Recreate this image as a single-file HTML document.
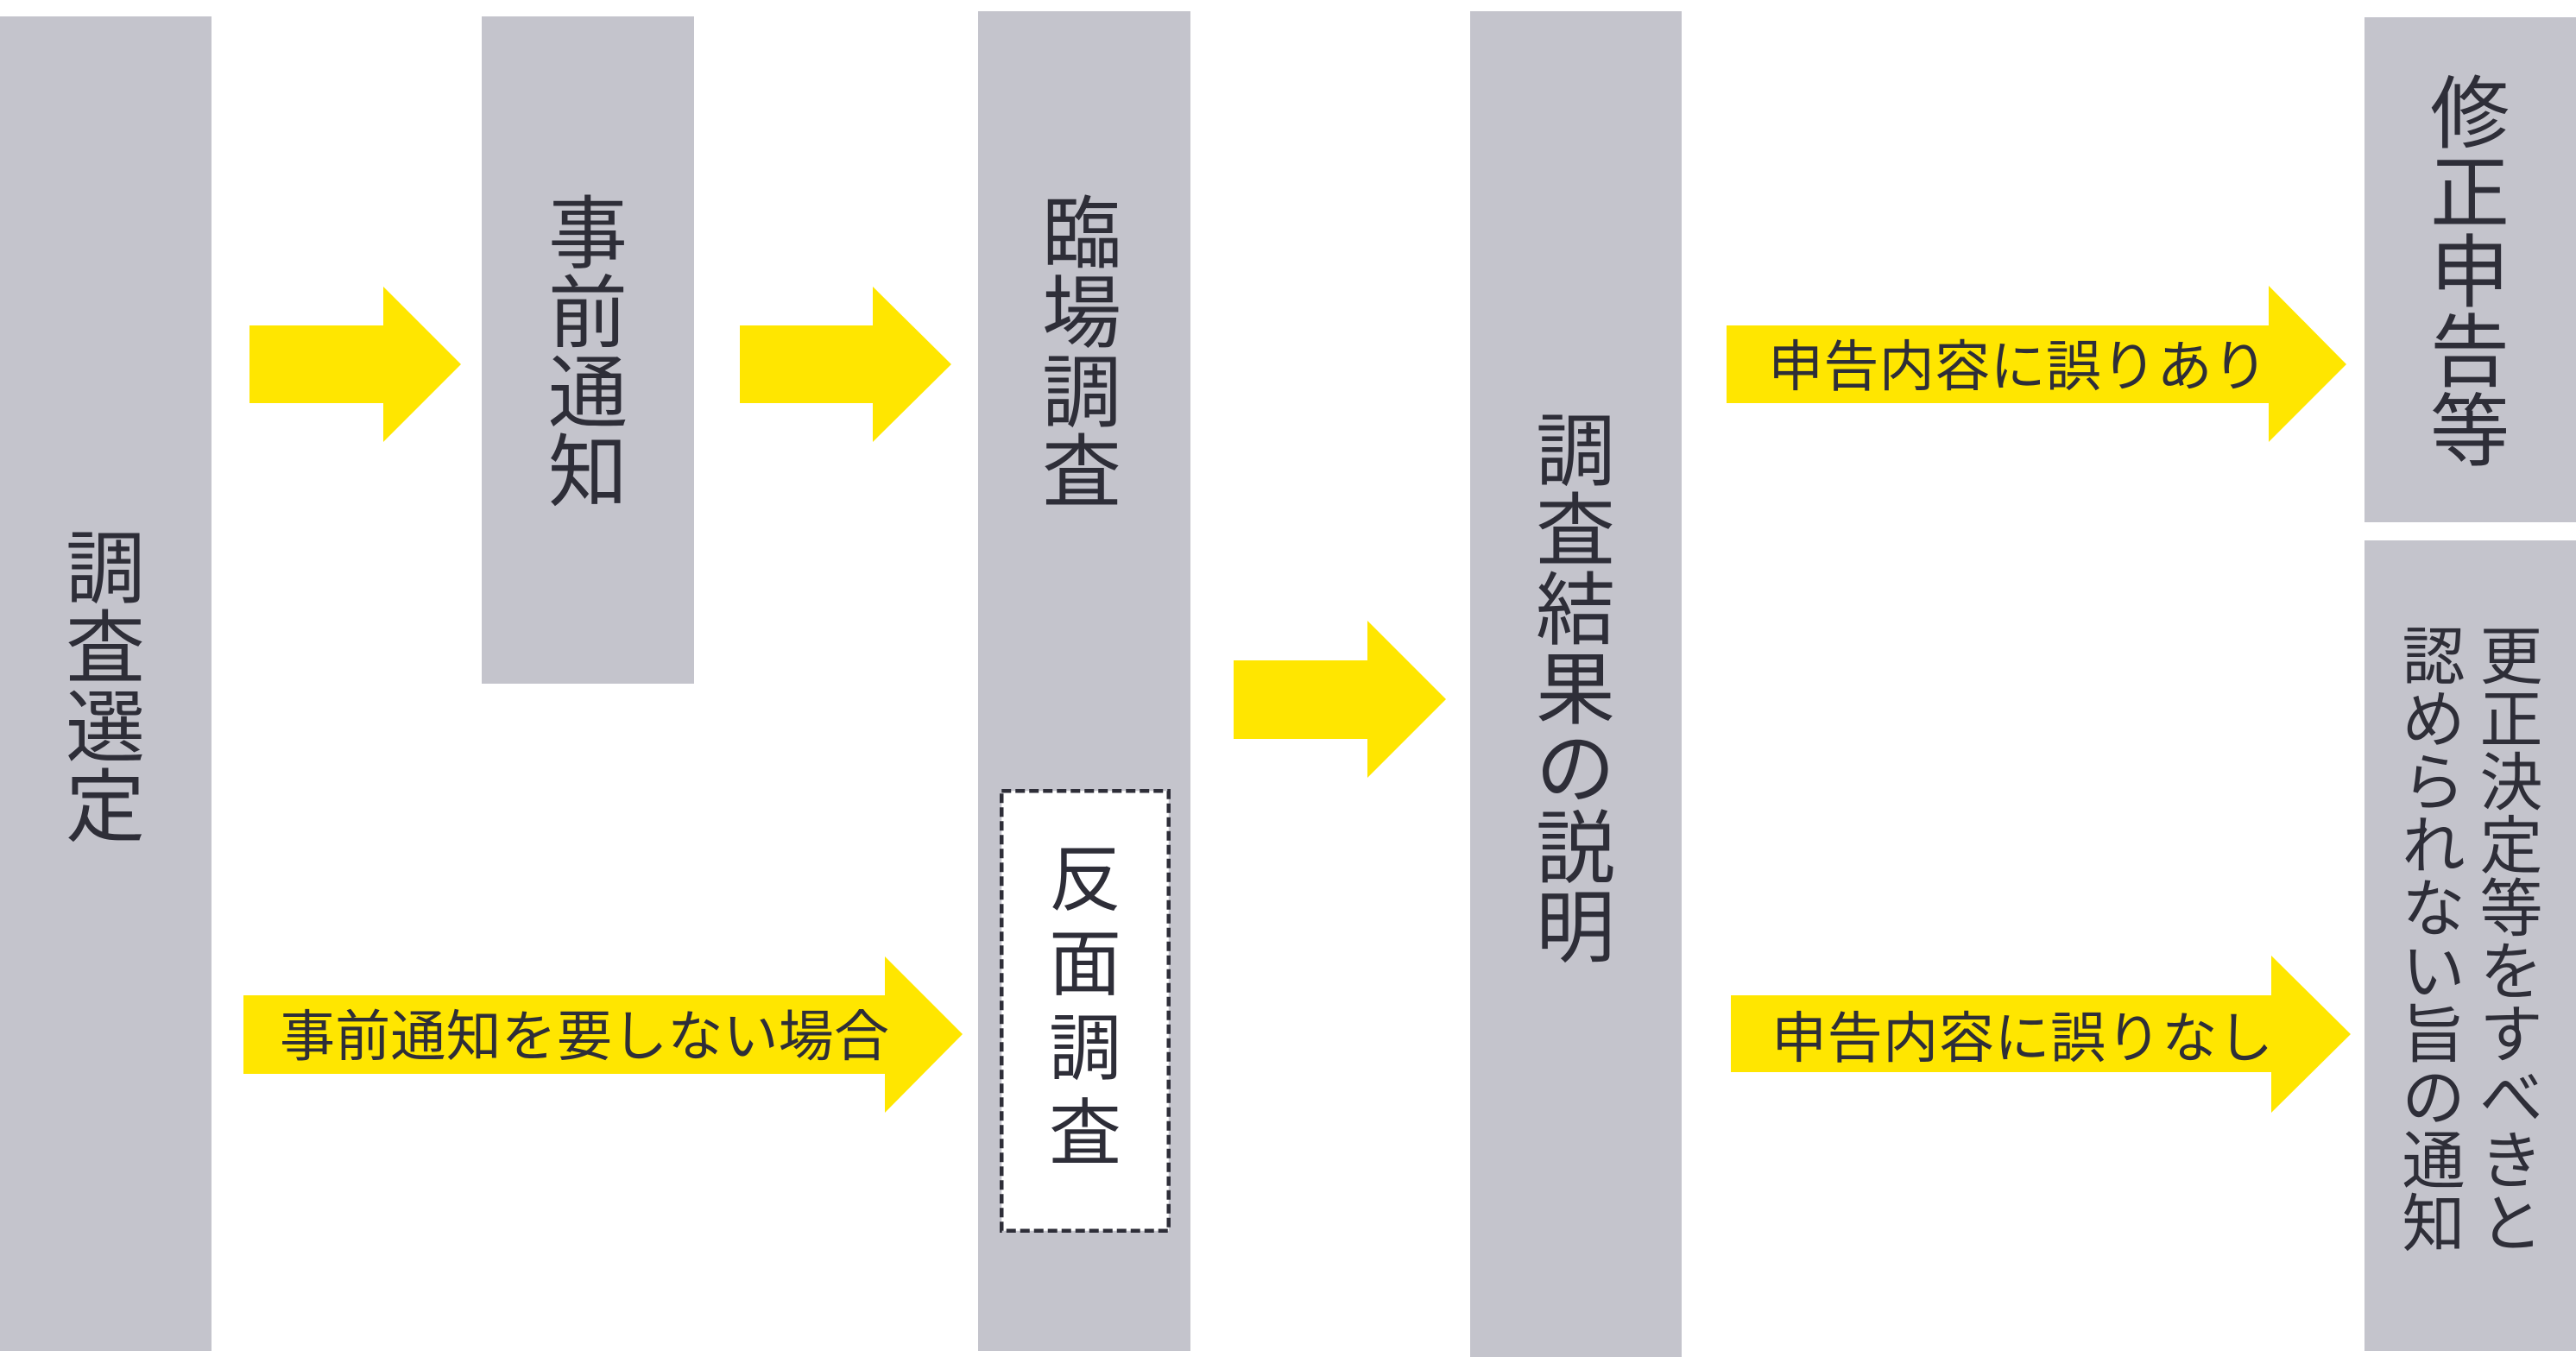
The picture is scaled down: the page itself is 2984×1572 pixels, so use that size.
<!DOCTYPE html>
<html>
<head>
<meta charset="utf-8">
<style>
html,body{margin:0;padding:0;background:#fff;}
svg{display:block;}
text{font-family:"Liberation Sans","Noto Sans CJK JP",sans-serif;fill:#2E2E38;}
</style>
</head>
<body>
<svg width="2984" height="1572" viewBox="0 0 2984 1572" xmlns="http://www.w3.org/2000/svg">
<rect x="0" y="0" width="2984" height="1572" fill="#ffffff"/>
<!-- gray boxes -->
<g fill="#C4C4CC">
<rect x="0" y="19" width="245" height="1546"/>
<rect x="558" y="19" width="246" height="773"/>
<rect x="1133" y="13" width="246" height="1552"/>
<rect x="1703" y="13" width="245" height="1559"/>
<rect x="2739" y="20" width="245" height="585"/>
<rect x="2739" y="626" width="245" height="939"/>
</g>
<!-- arrows -->
<g fill="#FFE600">
<polygon points="289,377 444,377 444,332 534,422 444,512 444,467 289,467"/>
<polygon points="857,377 1011,377 1011,332 1102,422 1011,512 1011,467 857,467"/>
<polygon points="282,1153 1025,1153 1025,1108 1115,1198 1025,1289 1025,1244 282,1244"/>
<polygon points="1429,765 1584,765 1584,719 1675,810 1584,901 1584,856 1429,856"/>
<polygon points="2000,377 2628,377 2628,331 2718,422 2628,512 2628,467 2000,467"/>
<polygon points="2005,1153 2631,1153 2631,1107 2723,1198 2631,1289 2631,1242 2005,1242"/>
</g>
<!-- dashed box -->
<rect x="1160.25" y="916.25" width="193.5" height="509.5" fill="#ffffff" stroke="#2E2E38" stroke-width="4.5" stroke-dasharray="11 5"/>

<!-- 調査選定 -->
<g font-size="92" text-anchor="middle">
<text x="122" y="691">調</text>
<text x="122" y="783">査</text>
<text x="122" y="875">選</text>
<text x="122" y="967">定</text>
</g>
<!-- 事前通知 -->
<g font-size="92" text-anchor="middle">
<text x="681" y="303">事</text>
<text x="681" y="395">前</text>
<text x="681" y="487">通</text>
<text x="681" y="579">知</text>
</g>
<!-- 臨場調査 -->
<g font-size="92" text-anchor="middle">
<text x="1253" y="303">臨</text>
<text x="1253" y="395">場</text>
<text x="1253" y="487">調</text>
<text x="1253" y="579">査</text>
</g>
<!-- 反面調査 -->
<g font-size="84" text-anchor="middle">
<text x="1257" y="1048">反</text>
<text x="1257" y="1146">面</text>
<text x="1257" y="1244">調</text>
<text x="1257" y="1342">査</text>
</g>
<!-- 調査結果の説明 -->
<g font-size="92" text-anchor="middle">
<text x="1825" y="555">調</text>
<text x="1825" y="647">査</text>
<text x="1825" y="739">結</text>
<text x="1825" y="831">果</text>
<text x="1825" y="923">の</text>
<text x="1825" y="1015">説</text>
<text x="1825" y="1107">明</text>
</g>
<!-- 修正申告等 -->
<g font-size="92" text-anchor="middle">
<text x="2861" y="164">修</text>
<text x="2861" y="256">正</text>
<text x="2861" y="348">申</text>
<text x="2861" y="440">告</text>
<text x="2861" y="532">等</text>
</g>
<!-- 更正決定等をすべきと -->
<g font-size="73" text-anchor="middle">
<text x="2909" y="786">更</text>
<text x="2909" y="859">正</text>
<text x="2909" y="932">決</text>
<text x="2909" y="1005">定</text>
<text x="2909" y="1078">等</text>
<text x="2909" y="1151">を</text>
<text x="2909" y="1224">す</text>
<text x="2909" y="1297">べ</text>
<text x="2909" y="1370">き</text>
<text x="2909" y="1443">と</text>
</g>
<!-- 認められない旨の通知 -->
<g font-size="73" text-anchor="middle">
<text x="2819" y="786">認</text>
<text x="2819" y="859">め</text>
<text x="2819" y="932">ら</text>
<text x="2819" y="1005">れ</text>
<text x="2819" y="1078">な</text>
<text x="2819" y="1151">い</text>
<text x="2819" y="1224">旨</text>
<text x="2819" y="1297">の</text>
<text x="2819" y="1370">通</text>
<text x="2819" y="1443">知</text>
</g>
<!-- arrow labels -->
<text x="324" y="1223" font-size="64" textLength="706" lengthAdjust="spacing">事前通知を要しない場合</text>
<text x="2048" y="447" font-size="64" textLength="579" lengthAdjust="spacing">申告内容に誤りあり</text>
<text x="2052" y="1225" font-size="64" textLength="581" lengthAdjust="spacing">申告内容に誤りなし</text>
</svg>
</body>
</html>
